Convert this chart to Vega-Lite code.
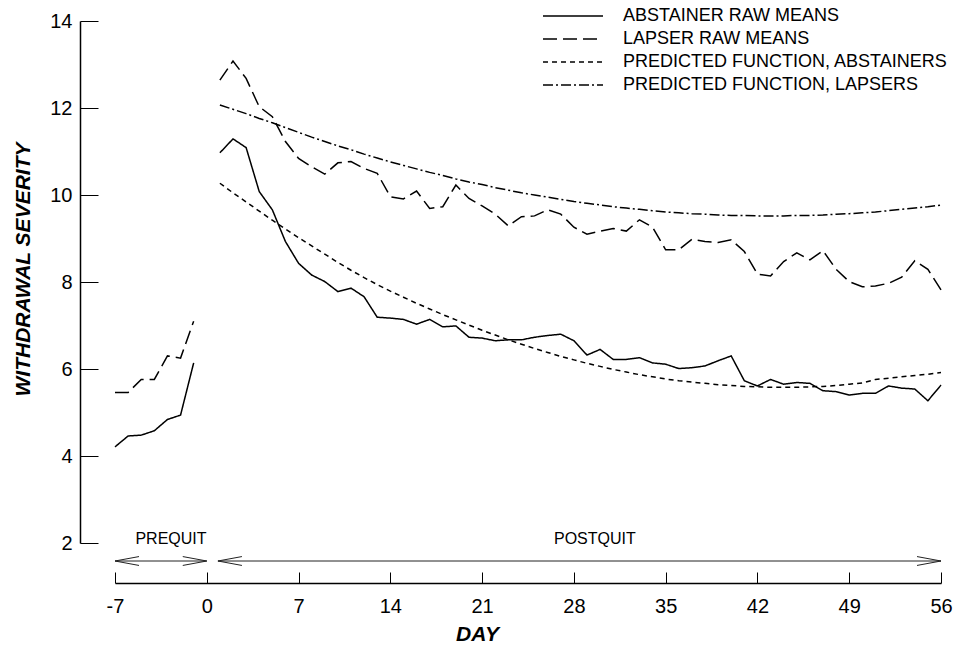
{
  "$schema": "https://vega.github.io/schema/vega-lite/v6.json",
  "width": 826,
  "height": 522,
  "autosize": {"type": "none"},
  "padding": {"left": 115, "top": 21, "right": 21, "bottom": 104},
  "background": "white",
  "config": {
    "view": {"stroke": null},
    "font": "Liberation Sans",
    "axis": {"grid": false, "domainColor": "black", "tickColor": "black", "labelColor": "black", "titleColor": "black", "labelFont": "Liberation Sans", "titleFont": "Liberation Sans"}
  },
  "layer": [
    {
      "data": {
        "values": [
          {"series": "ABSTAINER RAW MEANS", "phase": "pre", "day": -7, "value": 4.21},
          {"series": "ABSTAINER RAW MEANS", "phase": "pre", "day": -6, "value": 4.46},
          {"series": "ABSTAINER RAW MEANS", "phase": "pre", "day": -5, "value": 4.48},
          {"series": "ABSTAINER RAW MEANS", "phase": "pre", "day": -4, "value": 4.58},
          {"series": "ABSTAINER RAW MEANS", "phase": "pre", "day": -3, "value": 4.84},
          {"series": "ABSTAINER RAW MEANS", "phase": "pre", "day": -2, "value": 4.94},
          {"series": "ABSTAINER RAW MEANS", "phase": "pre", "day": -1, "value": 6.14},
          {"series": "ABSTAINER RAW MEANS", "phase": "post", "day": 1, "value": 10.97},
          {"series": "ABSTAINER RAW MEANS", "phase": "post", "day": 2, "value": 11.29},
          {"series": "ABSTAINER RAW MEANS", "phase": "post", "day": 3, "value": 11.09},
          {"series": "ABSTAINER RAW MEANS", "phase": "post", "day": 4, "value": 10.08},
          {"series": "ABSTAINER RAW MEANS", "phase": "post", "day": 5, "value": 9.66},
          {"series": "ABSTAINER RAW MEANS", "phase": "post", "day": 6, "value": 8.93},
          {"series": "ABSTAINER RAW MEANS", "phase": "post", "day": 7, "value": 8.43},
          {"series": "ABSTAINER RAW MEANS", "phase": "post", "day": 8, "value": 8.16},
          {"series": "ABSTAINER RAW MEANS", "phase": "post", "day": 9, "value": 8.01},
          {"series": "ABSTAINER RAW MEANS", "phase": "post", "day": 10, "value": 7.78},
          {"series": "ABSTAINER RAW MEANS", "phase": "post", "day": 11, "value": 7.86},
          {"series": "ABSTAINER RAW MEANS", "phase": "post", "day": 12, "value": 7.66},
          {"series": "ABSTAINER RAW MEANS", "phase": "post", "day": 13, "value": 7.19},
          {"series": "ABSTAINER RAW MEANS", "phase": "post", "day": 14, "value": 7.17},
          {"series": "ABSTAINER RAW MEANS", "phase": "post", "day": 15, "value": 7.14},
          {"series": "ABSTAINER RAW MEANS", "phase": "post", "day": 16, "value": 7.03},
          {"series": "ABSTAINER RAW MEANS", "phase": "post", "day": 17, "value": 7.14},
          {"series": "ABSTAINER RAW MEANS", "phase": "post", "day": 18, "value": 6.97},
          {"series": "ABSTAINER RAW MEANS", "phase": "post", "day": 19, "value": 6.99},
          {"series": "ABSTAINER RAW MEANS", "phase": "post", "day": 20, "value": 6.73},
          {"series": "ABSTAINER RAW MEANS", "phase": "post", "day": 21, "value": 6.71},
          {"series": "ABSTAINER RAW MEANS", "phase": "post", "day": 22, "value": 6.65},
          {"series": "ABSTAINER RAW MEANS", "phase": "post", "day": 23, "value": 6.67},
          {"series": "ABSTAINER RAW MEANS", "phase": "post", "day": 24, "value": 6.67},
          {"series": "ABSTAINER RAW MEANS", "phase": "post", "day": 25, "value": 6.73},
          {"series": "ABSTAINER RAW MEANS", "phase": "post", "day": 26, "value": 6.77},
          {"series": "ABSTAINER RAW MEANS", "phase": "post", "day": 27, "value": 6.8},
          {"series": "ABSTAINER RAW MEANS", "phase": "post", "day": 28, "value": 6.65},
          {"series": "ABSTAINER RAW MEANS", "phase": "post", "day": 29, "value": 6.32},
          {"series": "ABSTAINER RAW MEANS", "phase": "post", "day": 30, "value": 6.45},
          {"series": "ABSTAINER RAW MEANS", "phase": "post", "day": 31, "value": 6.22},
          {"series": "ABSTAINER RAW MEANS", "phase": "post", "day": 32, "value": 6.22},
          {"series": "ABSTAINER RAW MEANS", "phase": "post", "day": 33, "value": 6.26},
          {"series": "ABSTAINER RAW MEANS", "phase": "post", "day": 34, "value": 6.14},
          {"series": "ABSTAINER RAW MEANS", "phase": "post", "day": 35, "value": 6.11},
          {"series": "ABSTAINER RAW MEANS", "phase": "post", "day": 36, "value": 6.01},
          {"series": "ABSTAINER RAW MEANS", "phase": "post", "day": 37, "value": 6.03},
          {"series": "ABSTAINER RAW MEANS", "phase": "post", "day": 38, "value": 6.07},
          {"series": "ABSTAINER RAW MEANS", "phase": "post", "day": 39, "value": 6.19},
          {"series": "ABSTAINER RAW MEANS", "phase": "post", "day": 40, "value": 6.3},
          {"series": "ABSTAINER RAW MEANS", "phase": "post", "day": 41, "value": 5.73},
          {"series": "ABSTAINER RAW MEANS", "phase": "post", "day": 42, "value": 5.61},
          {"series": "ABSTAINER RAW MEANS", "phase": "post", "day": 43, "value": 5.76},
          {"series": "ABSTAINER RAW MEANS", "phase": "post", "day": 44, "value": 5.65},
          {"series": "ABSTAINER RAW MEANS", "phase": "post", "day": 45, "value": 5.69},
          {"series": "ABSTAINER RAW MEANS", "phase": "post", "day": 46, "value": 5.67},
          {"series": "ABSTAINER RAW MEANS", "phase": "post", "day": 47, "value": 5.5},
          {"series": "ABSTAINER RAW MEANS", "phase": "post", "day": 48, "value": 5.48},
          {"series": "ABSTAINER RAW MEANS", "phase": "post", "day": 49, "value": 5.4},
          {"series": "ABSTAINER RAW MEANS", "phase": "post", "day": 50, "value": 5.44},
          {"series": "ABSTAINER RAW MEANS", "phase": "post", "day": 51, "value": 5.44},
          {"series": "ABSTAINER RAW MEANS", "phase": "post", "day": 52, "value": 5.61},
          {"series": "ABSTAINER RAW MEANS", "phase": "post", "day": 53, "value": 5.56},
          {"series": "ABSTAINER RAW MEANS", "phase": "post", "day": 54, "value": 5.54},
          {"series": "ABSTAINER RAW MEANS", "phase": "post", "day": 55, "value": 5.27},
          {"series": "ABSTAINER RAW MEANS", "phase": "post", "day": 56, "value": 5.63},

          {"series": "LAPSER RAW MEANS", "phase": "pre", "day": -7, "value": 5.46},
          {"series": "LAPSER RAW MEANS", "phase": "pre", "day": -6, "value": 5.46},
          {"series": "LAPSER RAW MEANS", "phase": "pre", "day": -5, "value": 5.76},
          {"series": "LAPSER RAW MEANS", "phase": "pre", "day": -4, "value": 5.76},
          {"series": "LAPSER RAW MEANS", "phase": "pre", "day": -3, "value": 6.3},
          {"series": "LAPSER RAW MEANS", "phase": "pre", "day": -2, "value": 6.25},
          {"series": "LAPSER RAW MEANS", "phase": "pre", "day": -1, "value": 7.1},
          {"series": "LAPSER RAW MEANS", "phase": "post", "day": 1, "value": 12.64},
          {"series": "LAPSER RAW MEANS", "phase": "post", "day": 2, "value": 13.08},
          {"series": "LAPSER RAW MEANS", "phase": "post", "day": 3, "value": 12.68},
          {"series": "LAPSER RAW MEANS", "phase": "post", "day": 4, "value": 12.03},
          {"series": "LAPSER RAW MEANS", "phase": "post", "day": 5, "value": 11.8},
          {"series": "LAPSER RAW MEANS", "phase": "post", "day": 6, "value": 11.23},
          {"series": "LAPSER RAW MEANS", "phase": "post", "day": 7, "value": 10.84},
          {"series": "LAPSER RAW MEANS", "phase": "post", "day": 8, "value": 10.65},
          {"series": "LAPSER RAW MEANS", "phase": "post", "day": 9, "value": 10.48},
          {"series": "LAPSER RAW MEANS", "phase": "post", "day": 10, "value": 10.74},
          {"series": "LAPSER RAW MEANS", "phase": "post", "day": 11, "value": 10.77},
          {"series": "LAPSER RAW MEANS", "phase": "post", "day": 12, "value": 10.61},
          {"series": "LAPSER RAW MEANS", "phase": "post", "day": 13, "value": 10.5},
          {"series": "LAPSER RAW MEANS", "phase": "post", "day": 14, "value": 9.96},
          {"series": "LAPSER RAW MEANS", "phase": "post", "day": 15, "value": 9.91},
          {"series": "LAPSER RAW MEANS", "phase": "post", "day": 16, "value": 10.09},
          {"series": "LAPSER RAW MEANS", "phase": "post", "day": 17, "value": 9.69},
          {"series": "LAPSER RAW MEANS", "phase": "post", "day": 18, "value": 9.73},
          {"series": "LAPSER RAW MEANS", "phase": "post", "day": 19, "value": 10.23},
          {"series": "LAPSER RAW MEANS", "phase": "post", "day": 20, "value": 9.92},
          {"series": "LAPSER RAW MEANS", "phase": "post", "day": 21, "value": 9.75},
          {"series": "LAPSER RAW MEANS", "phase": "post", "day": 22, "value": 9.56},
          {"series": "LAPSER RAW MEANS", "phase": "post", "day": 23, "value": 9.29},
          {"series": "LAPSER RAW MEANS", "phase": "post", "day": 24, "value": 9.5},
          {"series": "LAPSER RAW MEANS", "phase": "post", "day": 25, "value": 9.52},
          {"series": "LAPSER RAW MEANS", "phase": "post", "day": 26, "value": 9.66},
          {"series": "LAPSER RAW MEANS", "phase": "post", "day": 27, "value": 9.56},
          {"series": "LAPSER RAW MEANS", "phase": "post", "day": 28, "value": 9.26},
          {"series": "LAPSER RAW MEANS", "phase": "post", "day": 29, "value": 9.1},
          {"series": "LAPSER RAW MEANS", "phase": "post", "day": 30, "value": 9.17},
          {"series": "LAPSER RAW MEANS", "phase": "post", "day": 31, "value": 9.23},
          {"series": "LAPSER RAW MEANS", "phase": "post", "day": 32, "value": 9.17},
          {"series": "LAPSER RAW MEANS", "phase": "post", "day": 33, "value": 9.43},
          {"series": "LAPSER RAW MEANS", "phase": "post", "day": 34, "value": 9.26},
          {"series": "LAPSER RAW MEANS", "phase": "post", "day": 35, "value": 8.74},
          {"series": "LAPSER RAW MEANS", "phase": "post", "day": 36, "value": 8.74},
          {"series": "LAPSER RAW MEANS", "phase": "post", "day": 37, "value": 8.98},
          {"series": "LAPSER RAW MEANS", "phase": "post", "day": 38, "value": 8.93},
          {"series": "LAPSER RAW MEANS", "phase": "post", "day": 39, "value": 8.91},
          {"series": "LAPSER RAW MEANS", "phase": "post", "day": 40, "value": 8.97},
          {"series": "LAPSER RAW MEANS", "phase": "post", "day": 41, "value": 8.7},
          {"series": "LAPSER RAW MEANS", "phase": "post", "day": 42, "value": 8.18},
          {"series": "LAPSER RAW MEANS", "phase": "post", "day": 43, "value": 8.14},
          {"series": "LAPSER RAW MEANS", "phase": "post", "day": 44, "value": 8.47},
          {"series": "LAPSER RAW MEANS", "phase": "post", "day": 45, "value": 8.67},
          {"series": "LAPSER RAW MEANS", "phase": "post", "day": 46, "value": 8.51},
          {"series": "LAPSER RAW MEANS", "phase": "post", "day": 47, "value": 8.72},
          {"series": "LAPSER RAW MEANS", "phase": "post", "day": 48, "value": 8.29},
          {"series": "LAPSER RAW MEANS", "phase": "post", "day": 49, "value": 8.01},
          {"series": "LAPSER RAW MEANS", "phase": "post", "day": 50, "value": 7.89},
          {"series": "LAPSER RAW MEANS", "phase": "post", "day": 51, "value": 7.91},
          {"series": "LAPSER RAW MEANS", "phase": "post", "day": 52, "value": 7.97},
          {"series": "LAPSER RAW MEANS", "phase": "post", "day": 53, "value": 8.11},
          {"series": "LAPSER RAW MEANS", "phase": "post", "day": 54, "value": 8.49},
          {"series": "LAPSER RAW MEANS", "phase": "post", "day": 55, "value": 8.29},
          {"series": "LAPSER RAW MEANS", "phase": "post", "day": 56, "value": 7.82},

          {"series": "PREDICTED FUNCTION, ABSTAINERS", "phase": "post", "day": 1, "value": 10.27},
          {"series": "PREDICTED FUNCTION, ABSTAINERS", "phase": "post", "day": 2, "value": 10.05},
          {"series": "PREDICTED FUNCTION, ABSTAINERS", "phase": "post", "day": 3, "value": 9.84},
          {"series": "PREDICTED FUNCTION, ABSTAINERS", "phase": "post", "day": 4, "value": 9.63},
          {"series": "PREDICTED FUNCTION, ABSTAINERS", "phase": "post", "day": 5, "value": 9.42},
          {"series": "PREDICTED FUNCTION, ABSTAINERS", "phase": "post", "day": 6, "value": 9.22},
          {"series": "PREDICTED FUNCTION, ABSTAINERS", "phase": "post", "day": 7, "value": 9.02},
          {"series": "PREDICTED FUNCTION, ABSTAINERS", "phase": "post", "day": 8, "value": 8.83},
          {"series": "PREDICTED FUNCTION, ABSTAINERS", "phase": "post", "day": 9, "value": 8.64},
          {"series": "PREDICTED FUNCTION, ABSTAINERS", "phase": "post", "day": 10, "value": 8.45},
          {"series": "PREDICTED FUNCTION, ABSTAINERS", "phase": "post", "day": 11, "value": 8.27},
          {"series": "PREDICTED FUNCTION, ABSTAINERS", "phase": "post", "day": 12, "value": 8.1},
          {"series": "PREDICTED FUNCTION, ABSTAINERS", "phase": "post", "day": 13, "value": 7.94},
          {"series": "PREDICTED FUNCTION, ABSTAINERS", "phase": "post", "day": 14, "value": 7.79},
          {"series": "PREDICTED FUNCTION, ABSTAINERS", "phase": "post", "day": 15, "value": 7.65},
          {"series": "PREDICTED FUNCTION, ABSTAINERS", "phase": "post", "day": 16, "value": 7.51},
          {"series": "PREDICTED FUNCTION, ABSTAINERS", "phase": "post", "day": 17, "value": 7.38},
          {"series": "PREDICTED FUNCTION, ABSTAINERS", "phase": "post", "day": 18, "value": 7.25},
          {"series": "PREDICTED FUNCTION, ABSTAINERS", "phase": "post", "day": 19, "value": 7.13},
          {"series": "PREDICTED FUNCTION, ABSTAINERS", "phase": "post", "day": 20, "value": 7.01},
          {"series": "PREDICTED FUNCTION, ABSTAINERS", "phase": "post", "day": 21, "value": 6.89},
          {"series": "PREDICTED FUNCTION, ABSTAINERS", "phase": "post", "day": 22, "value": 6.78},
          {"series": "PREDICTED FUNCTION, ABSTAINERS", "phase": "post", "day": 23, "value": 6.67},
          {"series": "PREDICTED FUNCTION, ABSTAINERS", "phase": "post", "day": 24, "value": 6.57},
          {"series": "PREDICTED FUNCTION, ABSTAINERS", "phase": "post", "day": 25, "value": 6.47},
          {"series": "PREDICTED FUNCTION, ABSTAINERS", "phase": "post", "day": 26, "value": 6.38},
          {"series": "PREDICTED FUNCTION, ABSTAINERS", "phase": "post", "day": 27, "value": 6.29},
          {"series": "PREDICTED FUNCTION, ABSTAINERS", "phase": "post", "day": 28, "value": 6.21},
          {"series": "PREDICTED FUNCTION, ABSTAINERS", "phase": "post", "day": 29, "value": 6.13},
          {"series": "PREDICTED FUNCTION, ABSTAINERS", "phase": "post", "day": 30, "value": 6.06},
          {"series": "PREDICTED FUNCTION, ABSTAINERS", "phase": "post", "day": 31, "value": 5.99},
          {"series": "PREDICTED FUNCTION, ABSTAINERS", "phase": "post", "day": 32, "value": 5.93},
          {"series": "PREDICTED FUNCTION, ABSTAINERS", "phase": "post", "day": 33, "value": 5.87},
          {"series": "PREDICTED FUNCTION, ABSTAINERS", "phase": "post", "day": 34, "value": 5.82},
          {"series": "PREDICTED FUNCTION, ABSTAINERS", "phase": "post", "day": 35, "value": 5.77},
          {"series": "PREDICTED FUNCTION, ABSTAINERS", "phase": "post", "day": 36, "value": 5.73},
          {"series": "PREDICTED FUNCTION, ABSTAINERS", "phase": "post", "day": 37, "value": 5.7},
          {"series": "PREDICTED FUNCTION, ABSTAINERS", "phase": "post", "day": 38, "value": 5.67},
          {"series": "PREDICTED FUNCTION, ABSTAINERS", "phase": "post", "day": 39, "value": 5.64},
          {"series": "PREDICTED FUNCTION, ABSTAINERS", "phase": "post", "day": 40, "value": 5.62},
          {"series": "PREDICTED FUNCTION, ABSTAINERS", "phase": "post", "day": 41, "value": 5.6},
          {"series": "PREDICTED FUNCTION, ABSTAINERS", "phase": "post", "day": 42, "value": 5.59},
          {"series": "PREDICTED FUNCTION, ABSTAINERS", "phase": "post", "day": 43, "value": 5.58},
          {"series": "PREDICTED FUNCTION, ABSTAINERS", "phase": "post", "day": 44, "value": 5.58},
          {"series": "PREDICTED FUNCTION, ABSTAINERS", "phase": "post", "day": 45, "value": 5.58},
          {"series": "PREDICTED FUNCTION, ABSTAINERS", "phase": "post", "day": 46, "value": 5.59},
          {"series": "PREDICTED FUNCTION, ABSTAINERS", "phase": "post", "day": 47, "value": 5.6},
          {"series": "PREDICTED FUNCTION, ABSTAINERS", "phase": "post", "day": 48, "value": 5.62},
          {"series": "PREDICTED FUNCTION, ABSTAINERS", "phase": "post", "day": 49, "value": 5.65},
          {"series": "PREDICTED FUNCTION, ABSTAINERS", "phase": "post", "day": 50, "value": 5.68},
          {"series": "PREDICTED FUNCTION, ABSTAINERS", "phase": "post", "day": 51, "value": 5.76},
          {"series": "PREDICTED FUNCTION, ABSTAINERS", "phase": "post", "day": 52, "value": 5.79},
          {"series": "PREDICTED FUNCTION, ABSTAINERS", "phase": "post", "day": 53, "value": 5.82},
          {"series": "PREDICTED FUNCTION, ABSTAINERS", "phase": "post", "day": 54, "value": 5.85},
          {"series": "PREDICTED FUNCTION, ABSTAINERS", "phase": "post", "day": 55, "value": 5.88},
          {"series": "PREDICTED FUNCTION, ABSTAINERS", "phase": "post", "day": 56, "value": 5.92},

          {"series": "PREDICTED FUNCTION, LAPSERS", "phase": "post", "day": 1, "value": 12.07},
          {"series": "PREDICTED FUNCTION, LAPSERS", "phase": "post", "day": 2, "value": 11.97},
          {"series": "PREDICTED FUNCTION, LAPSERS", "phase": "post", "day": 3, "value": 11.87},
          {"series": "PREDICTED FUNCTION, LAPSERS", "phase": "post", "day": 4, "value": 11.76},
          {"series": "PREDICTED FUNCTION, LAPSERS", "phase": "post", "day": 5, "value": 11.66},
          {"series": "PREDICTED FUNCTION, LAPSERS", "phase": "post", "day": 6, "value": 11.55},
          {"series": "PREDICTED FUNCTION, LAPSERS", "phase": "post", "day": 7, "value": 11.44},
          {"series": "PREDICTED FUNCTION, LAPSERS", "phase": "post", "day": 8, "value": 11.33},
          {"series": "PREDICTED FUNCTION, LAPSERS", "phase": "post", "day": 9, "value": 11.23},
          {"series": "PREDICTED FUNCTION, LAPSERS", "phase": "post", "day": 10, "value": 11.13},
          {"series": "PREDICTED FUNCTION, LAPSERS", "phase": "post", "day": 11, "value": 11.04},
          {"series": "PREDICTED FUNCTION, LAPSERS", "phase": "post", "day": 12, "value": 10.94},
          {"series": "PREDICTED FUNCTION, LAPSERS", "phase": "post", "day": 13, "value": 10.85},
          {"series": "PREDICTED FUNCTION, LAPSERS", "phase": "post", "day": 14, "value": 10.76},
          {"series": "PREDICTED FUNCTION, LAPSERS", "phase": "post", "day": 15, "value": 10.68},
          {"series": "PREDICTED FUNCTION, LAPSERS", "phase": "post", "day": 16, "value": 10.6},
          {"series": "PREDICTED FUNCTION, LAPSERS", "phase": "post", "day": 17, "value": 10.52},
          {"series": "PREDICTED FUNCTION, LAPSERS", "phase": "post", "day": 18, "value": 10.45},
          {"series": "PREDICTED FUNCTION, LAPSERS", "phase": "post", "day": 19, "value": 10.37},
          {"series": "PREDICTED FUNCTION, LAPSERS", "phase": "post", "day": 20, "value": 10.3},
          {"series": "PREDICTED FUNCTION, LAPSERS", "phase": "post", "day": 21, "value": 10.24},
          {"series": "PREDICTED FUNCTION, LAPSERS", "phase": "post", "day": 22, "value": 10.17},
          {"series": "PREDICTED FUNCTION, LAPSERS", "phase": "post", "day": 23, "value": 10.11},
          {"series": "PREDICTED FUNCTION, LAPSERS", "phase": "post", "day": 24, "value": 10.05},
          {"series": "PREDICTED FUNCTION, LAPSERS", "phase": "post", "day": 25, "value": 10.0},
          {"series": "PREDICTED FUNCTION, LAPSERS", "phase": "post", "day": 26, "value": 9.95},
          {"series": "PREDICTED FUNCTION, LAPSERS", "phase": "post", "day": 27, "value": 9.9},
          {"series": "PREDICTED FUNCTION, LAPSERS", "phase": "post", "day": 28, "value": 9.85},
          {"series": "PREDICTED FUNCTION, LAPSERS", "phase": "post", "day": 29, "value": 9.81},
          {"series": "PREDICTED FUNCTION, LAPSERS", "phase": "post", "day": 30, "value": 9.77},
          {"series": "PREDICTED FUNCTION, LAPSERS", "phase": "post", "day": 31, "value": 9.73},
          {"series": "PREDICTED FUNCTION, LAPSERS", "phase": "post", "day": 32, "value": 9.7},
          {"series": "PREDICTED FUNCTION, LAPSERS", "phase": "post", "day": 33, "value": 9.67},
          {"series": "PREDICTED FUNCTION, LAPSERS", "phase": "post", "day": 34, "value": 9.64},
          {"series": "PREDICTED FUNCTION, LAPSERS", "phase": "post", "day": 35, "value": 9.61},
          {"series": "PREDICTED FUNCTION, LAPSERS", "phase": "post", "day": 36, "value": 9.59},
          {"series": "PREDICTED FUNCTION, LAPSERS", "phase": "post", "day": 37, "value": 9.57},
          {"series": "PREDICTED FUNCTION, LAPSERS", "phase": "post", "day": 38, "value": 9.56},
          {"series": "PREDICTED FUNCTION, LAPSERS", "phase": "post", "day": 39, "value": 9.54},
          {"series": "PREDICTED FUNCTION, LAPSERS", "phase": "post", "day": 40, "value": 9.53},
          {"series": "PREDICTED FUNCTION, LAPSERS", "phase": "post", "day": 41, "value": 9.53},
          {"series": "PREDICTED FUNCTION, LAPSERS", "phase": "post", "day": 42, "value": 9.52},
          {"series": "PREDICTED FUNCTION, LAPSERS", "phase": "post", "day": 43, "value": 9.52},
          {"series": "PREDICTED FUNCTION, LAPSERS", "phase": "post", "day": 44, "value": 9.52},
          {"series": "PREDICTED FUNCTION, LAPSERS", "phase": "post", "day": 45, "value": 9.53},
          {"series": "PREDICTED FUNCTION, LAPSERS", "phase": "post", "day": 46, "value": 9.53},
          {"series": "PREDICTED FUNCTION, LAPSERS", "phase": "post", "day": 47, "value": 9.54},
          {"series": "PREDICTED FUNCTION, LAPSERS", "phase": "post", "day": 48, "value": 9.56},
          {"series": "PREDICTED FUNCTION, LAPSERS", "phase": "post", "day": 49, "value": 9.57},
          {"series": "PREDICTED FUNCTION, LAPSERS", "phase": "post", "day": 50, "value": 9.59},
          {"series": "PREDICTED FUNCTION, LAPSERS", "phase": "post", "day": 51, "value": 9.61},
          {"series": "PREDICTED FUNCTION, LAPSERS", "phase": "post", "day": 52, "value": 9.64},
          {"series": "PREDICTED FUNCTION, LAPSERS", "phase": "post", "day": 53, "value": 9.67},
          {"series": "PREDICTED FUNCTION, LAPSERS", "phase": "post", "day": 54, "value": 9.7},
          {"series": "PREDICTED FUNCTION, LAPSERS", "phase": "post", "day": 55, "value": 9.73},
          {"series": "PREDICTED FUNCTION, LAPSERS", "phase": "post", "day": 56, "value": 9.77}
        ]
      },
      "mark": {"type": "line", "color": "black", "strokeWidth": 1.5, "strokeCap": "butt", "clip": false},
      "encoding": {
        "x": {
          "field": "day", "type": "quantitative",
          "scale": {"domain": [-7, 56], "nice": false, "zero": false},
          "axis": {
            "values": [-7, 0, 7, 14, 21, 28, 35, 42, 49, 56],
            "labelExpr": "toString(datum.value)",
            "offset": 40, "tickSize": -11, "labelPadding": 24, "domainWidth": 1.5, "tickWidth": 1,
            "labelFontSize": 20, "labelFlush": false,
            "title": "DAY", "titleFontSize": 21, "titleFontWeight": "bold", "titleFontStyle": "italic",
            "titleX": 362, "titleY": 51, "titleBaseline": "middle", "titleAlign": "center"
          }
        },
        "y": {
          "field": "value", "type": "quantitative",
          "scale": {"domain": [2, 14], "nice": false, "zero": false},
          "axis": {
            "values": [2, 4, 6, 8, 10, 12, 14],
            "offset": 35, "tickSize": -18, "labelPadding": 26, "domainWidth": 1.5, "tickWidth": 1,
            "labelFontSize": 20, "labelFlush": false,
            "title": "WITHDRAWAL SEVERITY", "titleFontSize": 21, "titleFontWeight": "bold", "titleFontStyle": "italic",
            "titleX": -57, "titleY": 248, "titleBaseline": "middle", "titleAlign": "center", "titleAngle": -90
          }
        },
        "strokeDash": {
          "field": "series", "type": "nominal",
          "scale": {
            "domain": ["ABSTAINER RAW MEANS", "LAPSER RAW MEANS", "PREDICTED FUNCTION, ABSTAINERS", "PREDICTED FUNCTION, LAPSERS"],
            "range": [[1, 0], [14, 6], [5, 4], [10, 3, 2, 3]]
          },
          "legend": {
            "orient": "none", "legendX": 419, "legendY": -14, "title": null, "padding": 0,
            "symbolType": "M0,0H40", "symbolSize": 9, "symbolStrokeWidth": 1.5, "symbolStrokeColor": "black",
            "labelFontSize": 18, "labelFont": "Liberation Sans", "labelColor": "black", "labelOffset": 71,
            "rowPadding": 5, "labelLimit": 0
          }
        },
        "detail": {"field": "phase"}
      }
    },
    {
      "data": {"values": [
        {"phase": "PREQUIT", "start": -7, "end": 0, "labelDay": -2.73},
        {"phase": "POSTQUIT", "start": 0.85, "end": 56, "labelDay": 29.6}
      ]},
      "layer": [
        {
          "mark": {"type": "rule", "color": "#222", "strokeWidth": 1},
          "encoding": {
            "x": {"field": "start", "type": "quantitative"},
            "x2": {"field": "end"},
            "y": {"datum": 1.586, "type": "quantitative"}
          }
        },
        {
          "mark": {"type": "point", "shape": "M2,-0.37L0,0L2,0.37", "size": 576, "filled": false, "stroke": "#222", "strokeWidth": 1, "opacity": 1},
          "encoding": {
            "x": {"field": "start", "type": "quantitative"},
            "y": {"datum": 1.586, "type": "quantitative"}
          }
        },
        {
          "mark": {"type": "point", "shape": "M-2,-0.37L0,0L-2,0.37", "size": 576, "filled": false, "stroke": "#222", "strokeWidth": 1, "opacity": 1},
          "encoding": {
            "x": {"field": "end", "type": "quantitative"},
            "y": {"datum": 1.586, "type": "quantitative"}
          }
        },
        {
          "mark": {"type": "text", "fontSize": 16, "font": "Liberation Sans", "color": "black", "baseline": "middle", "align": "center"},
          "encoding": {
            "x": {"field": "labelDay", "type": "quantitative"},
            "y": {"datum": 2.1, "type": "quantitative"},
            "text": {"field": "phase"}
          }
        }
      ]
    }
  ]
}
